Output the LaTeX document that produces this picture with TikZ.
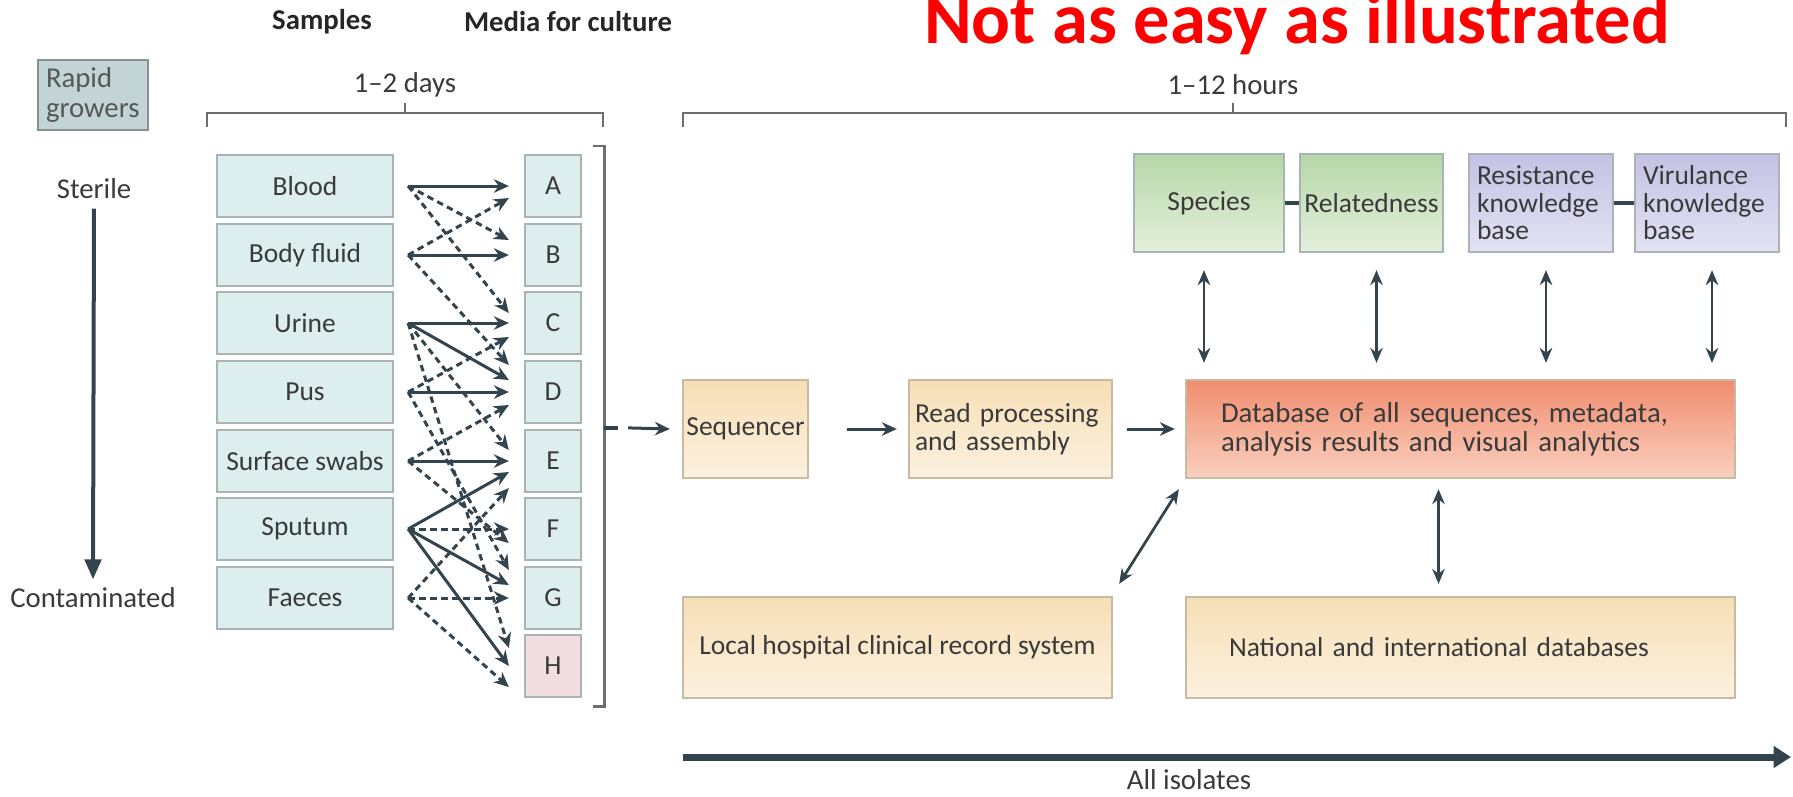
\documentclass[tikz,border=0pt]{standalone}
\usepackage{fontspec}
\setmainfont{Carlito}
\usetikzlibrary{arrows.meta,calc}
\definecolor{txt}{HTML}{3A3A3A}
\definecolor{hdr}{HTML}{262626}
\definecolor{arr}{HTML}{34444E}
\definecolor{brc}{HTML}{6E6E6E}
\definecolor{edgec}{HTML}{A9B4B6}
\definecolor{begline}{HTML}{C9BBA3}
\definecolor{cteal}{HTML}{DCEEED}
\definecolor{cpink}{HTML}{F2DEE1}
\definecolor{crapid}{HTML}{C3D4D7}
\definecolor{begt}{HTML}{F6DFB6}
\definecolor{begb}{HTML}{FCF1DF}
\definecolor{dbt}{HTML}{F08C6E}
\definecolor{dbb}{HTML}{FAD0BF}
\definecolor{grt}{HTML}{B7D7A8}
\definecolor{grb}{HTML}{E3F0DC}
\definecolor{put}{HTML}{C4C1E4}
\definecolor{pub}{HTML}{E4E2F3}
\def\PX{0.4pt}
\begin{document}
\begin{tikzpicture}[x=0.4pt,y=-0.4pt,
  font=\fontsize{11}{11}\selectfont,
  box/.style={draw=edgec, line width=0.9pt, inner sep=0pt, text=txt},
  sbox/.style={box, fill=cteal, minimum width=176*\PX, minimum height=62*\PX},
  mbox/.style={box, fill=cteal, minimum width=56*\PX, minimum height=62*\PX},
  begbox/.style={box, draw=begline, top color=begt, bottom color=begb},
  dbbox/.style={box, draw=begline, top color=dbt, bottom color=dbb},
  grbox/.style={box, top color=grt, bottom color=grb},
  pubox/.style={box, top color=put, bottom color=pub},
  lbl/.style={text=txt, inner sep=0pt, font=\fontsize{11.5}{12}\selectfont},
  hdrlbl/.style={text=hdr, inner sep=0pt, font=\bfseries\fontsize{11.5}{12}\selectfont},
  brace/.style={draw=brc, line width=1.1pt},
  conn/.style={draw=arr, line width=1.2pt, -{Stealth[length=6pt,width=5.4pt]}},
  dconn/.style={conn, dash pattern=on 2.6pt off 1.8pt},
  dbl/.style={draw=arr, line width=1.1pt, {Stealth[length=6pt,width=5pt]}-{Stealth[length=6pt,width=5pt]}},
  link/.style={draw=arr, line width=1.3pt},
  bigarr/.style={draw=arr, line width=1.6pt, -{Triangle[length=8pt,width=6.5pt]}},
  thick arr/.style={draw=arr, line width=2.8pt, -{Triangle[length=7pt,width=8.5pt]}}
]
\clip (0,0) rectangle (1793,796);

% title
\node[anchor=base, text=red, inner sep=0pt, font=\bfseries\fontsize{29}{30}\selectfont] (title) at (1297,43) {Not as easy as illustrated};

% headers
\node[hdrlbl] (hs) at (322,22) {Samples};
\node[hdrlbl] (hm) at (568,22) {Media for culture};

% rapid growers
\node[box, fill=crapid, draw=edgec!80!black, text width=94*\PX, inner xsep=8*\PX, minimum height=70*\PX, align=left, text=txt!85!white, font=\fontsize{11.5}{12}\selectfont] (rapid) at (93,95) {Rapid\\growers};

% sterile / contaminated
\node[lbl] (ster) at (94,189) {Sterile};
\node[lbl] (cont) at (93,598) {Contaminated};
\draw[bigarr] ($(ster.south)+(0,9)$) -- ($(cont.north)+(0,-8)$);

% braces
\draw[brace] (207,127) -- (207,113) -- (603,113) -- (603,127);
\draw[brace] (405,113) -- (405,103);
\node[lbl] (d12) at (405,85) {1–2 days};
\draw[brace] (683,127) -- (683,113) -- (1786,113) -- (1786,127);
\draw[brace] (1233,113) -- (1233,103);
\node[lbl] (h112) at (1233,85) {1–12 hours};

% samples
\node[sbox] (s1) at (305,186) {Blood};
\node[sbox] (s2) at (305,255) {Body fluid};
\node[sbox] (s3) at (305,323) {Urine};
\node[sbox] (s4) at (305,392) {Pus};
\node[sbox] (s5) at (305,461) {Surface swabs};
\node[sbox] (s6) at (305,529) {Sputum};
\node[sbox] (s7) at (305,598) {Faeces};

% media
\node[mbox] (mA) at (553,186) {A};
\node[mbox] (mB) at (553,255) {B};
\node[mbox] (mC) at (553,323) {C};
\node[mbox] (mD) at (553,392) {D};
\node[mbox] (mE) at (553,461) {E};
\node[mbox] (mF) at (553,529) {F};
\node[mbox] (mG) at (553,598) {G};
\node[mbox, fill=cpink] (mH) at (553,666) {H};

% sample -> media arrows
\foreach \s/\m/\d in {s2/mA/12, s1/mB/-15, s1/mC/-10, s4/mC/14, s2/mD/-27, s5/mD/13,
  s3/mE/-11, s7/mE/27, s6/mF/0, s5/mF/14, s4/mG/-28, s7/mG/0, s3/mH/-18, s7/mH/21}
  \draw[dconn] ($(\s.east)+(14,0)$) -- ($(\m.west)+(-15,\d)$);
\foreach \s/\m/\d in {s1/mA/0, s2/mB/0, s3/mC/0, s3/mD/-12, s4/mD/0, s5/mE/0,
  s6/mE/11, s6/mG/-13, s6/mH/0}
  \draw[conn] ($(\s.east)+(14,0)$) -- ($(\m.west)+(-15,\d)$);

% bracket
\draw[brace] ($(mA.north east)+(11,-8)$) -- ++(11,0) coordinate (bt) -- ($(mH.south east)+(22,8)$) -- ++(-11,0);
\coordinate (brk) at ($(bt)+(0,282)$);

% right part
\node[begbox, minimum width=125*\PX, minimum height=98*\PX] (seq) at (745.5,429) {Sequencer};
\node[begbox, text width=191*\PX, inner xsep=6*\PX, minimum height=98*\PX, align=left] (read) at (1010.5,429) {Read processing\\and assembly};
\node[dbbox, text width=479*\PX, inner xsep=35*\PX, minimum height=98*\PX, align=left, font=\fontsize{11.5}{11.5}\selectfont] (db) at (1460.5,429) {Database of all sequences, metadata,\\analysis results and visual analytics};
\node[grbox, minimum width=150*\PX, minimum height=98*\PX] (species) at (1209,203) {Species};
\node[grbox, minimum width=143*\PX, minimum height=98*\PX] (relat) at (1371.5,203) {Relatedness};
\node[pubox, text width=128*\PX, inner xsep=8*\PX, minimum height=98*\PX, align=left] (resist) at (1541,203) {Resistance\\knowledge\\base};
\node[pubox, text width=128*\PX, inner xsep=8*\PX, minimum height=98*\PX, align=left] (viru) at (1707,203) {Virulance\\knowledge\\base};
\node[begbox, minimum width=429*\PX, minimum height=101*\PX] (local) at (897.5,647.5) {Local hospital clinical record system};
\node[begbox, text width=463*\PX, inner xsep=43*\PX, minimum height=101*\PX, align=left] (nat) at (1460.5,647.5) {National and international databases};

% bracket to sequencer
\draw[link] (brk) -- ++(14,0);
\draw[conn] ($(brk)+(24,0)$) -- ($(seq.west)+(-12,0)$);
\draw[conn] ($(seq.east)+(38,0)$) -- ($(read.west)+(-11,0)$);
\draw[conn] ($(read.east)+(14,0)$) -- ($(db.west)+(-10,0)$);

\draw[link] (species) -- (relat);
\draw[link] (resist) -- (viru);

\foreach \n/\dx in {species/-5, relat/5, resist/5, viru/5}
  \draw[dbl] ($(\n.south)+(\dx,17)$) -- ($(\n.south |- db.north)+(\dx,-16)$);

\draw[dbl] ($(db.south west)+(-6,10)$) -- ($(local.north east)+(6,-12)$);
\draw[dbl] ($(db.south)+(-22,10)$) -- ($(db.south |- nat.north)+(-22,-12)$);

% all isolates
\coordinate (ai0) at (683,757);
\coordinate (ai1) at (1791,757);
\draw[thick arr] (ai0) -- (ai1);
\node[lbl] (ail) at (1189,780) {All isolates};
\end{tikzpicture}
\end{document}
